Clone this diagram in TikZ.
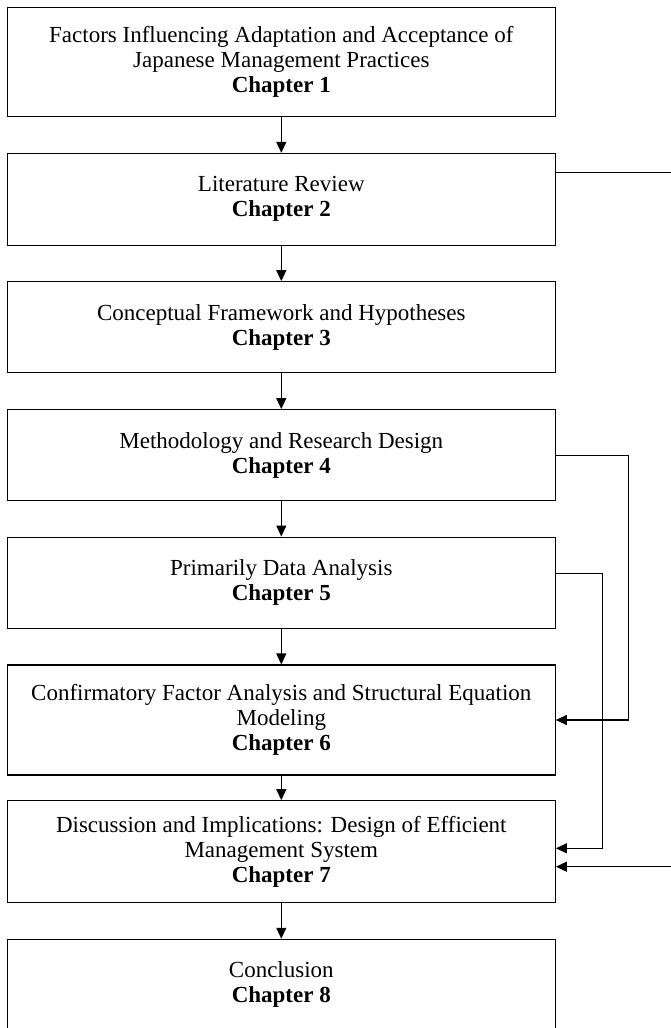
\documentclass[tikz,border=0pt]{standalone}
\usepackage{fontspec}
\setmainfont{Liberation Serif}
\usetikzlibrary{arrows.meta}

\begin{document}
\begin{tikzpicture}[x=1pt, y=-1pt,
  chapbox/.style={draw=black, line width=1.1pt, rectangle, minimum width=548pt,
    align=center, inner sep=0pt,
    font=\fontsize{23}{25}\selectfont},
  flow/.style={line width=1.1pt, -{Triangle[length=11pt, width=10pt]}},
  link/.style={line width=1.1pt, -{Triangle[length=11pt, width=10pt]}}
]
\useasboundingbox (0,0) rectangle (671,1028);
\clip (0,0) rectangle (671,1028);

% chapter boxes
\node[chapbox, minimum height=109.4pt] (b1) at (281.3,62.0)
  {Factors Influencing Adaptation and Acceptance of\\Japanese Management Practices\\\textbf{Chapter 1}};
\node[chapbox, minimum height=91.7pt] (b2) at (281.3,199.2)
  {Literature Review\\\textbf{Chapter 2}};
\node[chapbox, minimum height=91pt] (b3) at (281.3,327.2)
  {Conceptual Framework and Hypotheses\\\textbf{Chapter 3}};
\node[chapbox, minimum height=91pt] (b4) at (281.3,455.1)
  {Methodology and Research Design\\\textbf{Chapter 4}};
\node[chapbox, minimum height=91.3pt] (b5) at (281.3,582.7)
  {Primarily Data Analysis\\\textbf{Chapter 5}};
\node[chapbox, minimum height=110pt] (b6) at (281.3,720.0)
  {Confirmatory Factor Analysis and Structural Equation\\Modeling\\\textbf{Chapter 6}};
\node[chapbox, minimum height=102pt] (b7) at (281.3,851.7)
  {Discussion and Implications: Design of Efficient\\Management System\\\textbf{Chapter 7}};
\node[chapbox, minimum height=91pt] (b8) at (281.3,984.8)
  {Conclusion\\\textbf{Chapter 8}};

% main sequence
\draw[flow] (b1.south) -- (b2.north);
\draw[flow] (b2.south) -- (b3.north);
\draw[flow] (b3.south) -- (b4.north);
\draw[flow] (b4.south) -- (b5.north);
\draw[flow] (b5.south) -- (b6.north);
\draw[flow] (b6.south) -- (b7.north);
\draw[flow] (b7.south) -- (b8.north);

% feedback links on the right
\draw[link] (b4.east) -- ++(73pt,0) |- (b6.east);
\draw[link] ([yshift=9pt]b5.east) -- ++(47pt,0) |- ([yshift=3.4pt]b7.east);
\draw[link] ([yshift=27pt]b2.east) -- ++(135pt,0) |- ([yshift=-15pt]b7.east);
\end{tikzpicture}
\end{document}
